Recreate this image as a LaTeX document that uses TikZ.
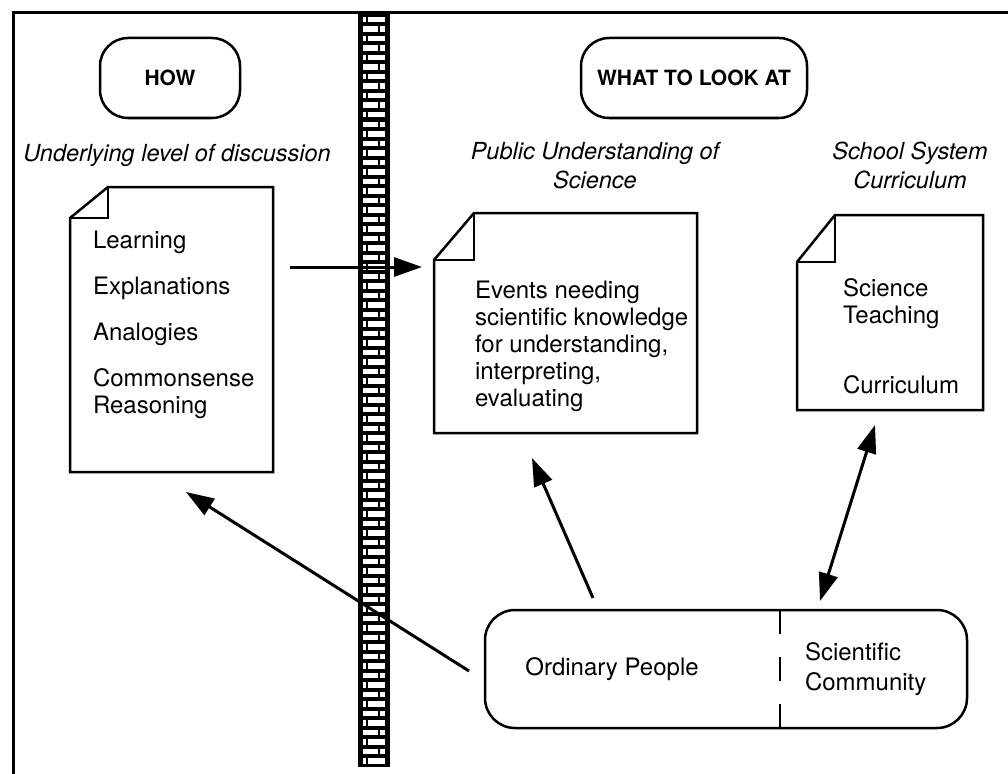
\documentclass[tikz,border=0pt]{standalone}
\usepackage{fontspec}
\setmainfont{TeX Gyre Heros}
\usetikzlibrary{arrows.meta,calc}
\begin{document}
\begin{tikzpicture}[x=1pt,y=-1pt,
  every node/.style={inner sep=0pt, outer sep=0pt},
  txt/.style={font=\fontsize{24}{27}\selectfont, align=left},
  itl/.style={font=\fontsize{23.5}{29}\selectfont\itshape, align=center},
  ttl/.style={draw, line width=2.5pt, rounded corners=28pt, font=\fontsize{21}{24}\selectfont\bfseries},
  edge/.style={line width=2.5pt, line join=miter},
  arr/.style={line width=3pt, -{Triangle[length=28pt,width=19pt]}},
  dbl/.style={line width=3pt, {Triangle[length=28pt,width=19pt]}-{Triangle[length=28pt,width=19pt]}},
]
\useasboundingbox (0,0) rectangle (1008,773);
% frame
\draw[line width=3pt] (13,780) -- (13,13) -- (1015,13);
% wall
\fill (358,13) rectangle (390,767);
\foreach \i in {0,2,...,78}{
  \fill[white] (363,{17+\i*9.5}) rectangle (366,{22.5+\i*9.5});
  \fill[white] (368,{17+\i*9.5}) rectangle (385,{22.5+\i*9.5});
}
\foreach \i in {1,3,...,77}{
  \fill[white] (363,{17+\i*9.5}) rectangle (378,{22.5+\i*9.5});
  \fill[white] (380,{17+\i*9.5}) rectangle (385,{22.5+\i*9.5});
}
% titles
\node[ttl, minimum width=140pt, minimum height=80pt] (how) at (170,78) {HOW};
\node[ttl, minimum width=226pt, minimum height=80pt] (what) at (694,78) {WHAT TO LOOK AT};
\node[itl] (und) at (177,155) {Underlying level of discussion};
\node[itl, anchor=north] (pus) at (595,142) {Public Understanding of\\Science};
\node[itl, anchor=north] (ssc) at (910,142) {School System\\Curriculum};
% doc 1
\node[minimum width=203pt, minimum height=285pt, anchor=north west] (d1) at (70,187) {};
\draw[edge] ($(d1.north west)+(38,0)$) -- (d1.north east) -- (d1.south east) -- (d1.south west) -- ($(d1.north west)+(0,31)$) -- cycle;
\draw[edge] ($(d1.north west)+(38,0)$) -- ++(0,31) -- ($(d1.north west)+(0,31)$);
\node[txt, anchor=north west] (t1) at (93,231) {Learning\\[19pt]Explanations\\[19pt]Analogies\\[19pt]Commonsense\\Reasoning};
% doc 2
\node[minimum width=263pt, minimum height=220pt, anchor=north west] (d2) at (434,213) {};
\draw[edge] ($(d2.north west)+(40,0)$) -- (d2.north east) -- (d2.south east) -- (d2.south west) -- ($(d2.north west)+(0,47)$) -- cycle;
\draw[edge] ($(d2.north west)+(40,0)$) -- ++(0,47) -- ($(d2.north west)+(0,47)$);
\node[txt, anchor=north west] (t2) at (475,281) {Events needing\\scientific knowledge\\for understanding,\\interpreting,\\evaluating};
% doc 3
\node[minimum width=186pt, minimum height=195pt, anchor=north west] (d3) at (797,215) {};
\draw[edge] ($(d3.north west)+(38,0)$) -- (d3.north east) -- (d3.south east) -- (d3.south west) -- ($(d3.north west)+(0,47)$) -- cycle;
\draw[edge] ($(d3.north west)+(38,0)$) -- ++(0,47) -- ($(d3.north west)+(0,47)$);
\node[txt, anchor=north west] (t3) at (843,279) {Science\\Teaching\\[43pt]Curriculum};
% bottom box
\node[draw, line width=2.5pt, rounded corners=30pt, minimum width=482pt, minimum height=118pt, anchor=north west] (ob) at (485,610) {};
\draw[line width=2.5pt, dash pattern=on 24pt off 23pt] (ob.north west -| 780,0) -- (ob.south west -| 780,0);
\node[txt] (op) at (612,669) {Ordinary People};
\node[txt, anchor=west, font=\fontsize{24}{30}\selectfont] (sc) at (805,669) {Scientific\\Community};
% arrows
\draw[arr] ($(d1.north east)+(17,80)$) -- ($(d2.north west)+(-12,54)$);
\draw[arr] ($(ob.west)+(-16,2)$) -- ($(d1.south west)+(116,20)$);
\draw[arr] ($(ob.north west)+(108,-12)$) -- ($(d2.south west)+(98,25)$);
\draw[dbl] ($(ob.north west)+(335,-9)$) -- ($(d3.south west)+(78,15)$);
\end{tikzpicture}
\end{document}
